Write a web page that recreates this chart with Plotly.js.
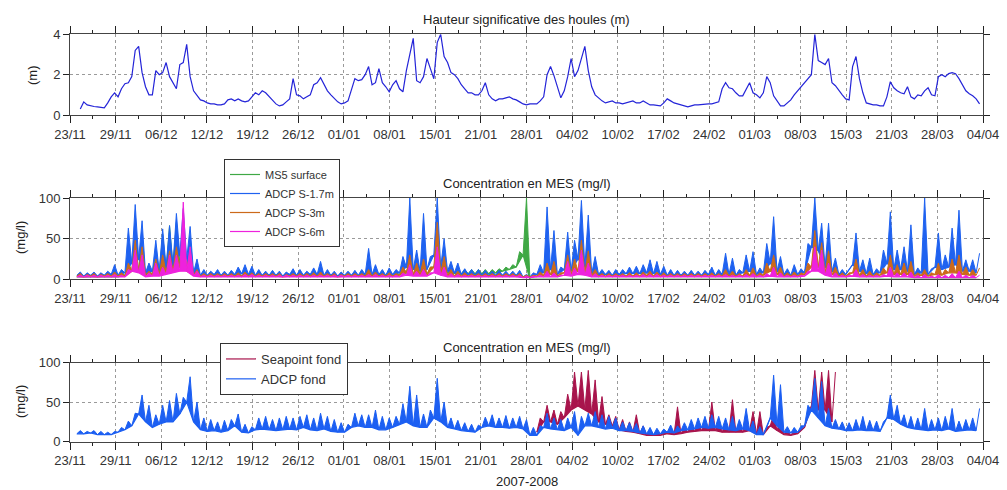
<!DOCTYPE html>
<html>
<head>
<meta charset="utf-8">
<script src="https://cdn.plot.ly/plotly-3.0.1.min.js"></script>
<style>html,body{margin:0;padding:0;background:#fff;}#chart{width:1007px;height:490px;}</style>
</head>
<body>
<div id="chart"></div>
<script>
// ---- Tick labels (dates, 2007-2008), equally spaced over 133 days starting 23/11 ----
const TICK_LABELS = ["23/11","29/11","06/12","12/12","19/12","26/12","01/01","08/01","15/01","21/01","28/01","04/02","10/02","17/02","24/02","01/03","08/03","15/03","21/03","28/03","04/04"];
const SPAN_DAYS = 133;

// ---- Significant wave height (m), half-day samples starting at day 1.5 ----
const WAVE_START = 1.5;
const WAVE_STEP = 0.5;
const waveHeight = [
 0.3,0.65,0.5,0.45,0.42,0.4,0.38,0.35,0.6,0.9,
 1.1,0.9,1.3,1.55,1.6,1.9,3.2,3.4,2.1,1.4,
 1.0,1.0,2.2,2.0,2.1,2.6,1.9,1.6,1.3,2.5,
 2.6,3.5,1.9,1.2,0.95,0.75,0.7,0.6,0.55,0.55,
 0.5,0.5,0.55,0.75,0.8,0.7,0.8,0.7,0.65,0.7,
 0.9,1.1,1.0,1.2,1.1,0.9,0.75,0.55,0.45,0.5,
 0.65,0.8,1.8,1.0,0.95,0.8,0.9,1.0,1.5,1.6,
 1.85,1.5,1.2,1.0,0.8,0.65,0.55,0.6,0.7,1.2,
 1.8,1.7,1.75,2.0,2.4,1.5,1.6,2.3,1.6,1.4,
 1.15,1.5,1.7,1.3,1.15,2.2,3.0,3.8,1.7,1.6,
 1.9,2.8,2.3,1.8,3.6,4.0,2.9,2.6,2.1,2.0,
 1.8,1.5,1.3,1.1,1.1,1.0,1.0,1.2,1.6,1.0,
 0.8,0.7,0.8,0.8,0.85,0.9,0.8,0.75,0.65,0.55,
 0.5,0.55,0.55,0.55,0.7,0.9,2.0,2.4,1.95,1.4,
 0.85,1.2,1.9,2.8,1.9,2.2,2.8,3.4,2.2,1.4,
 1.0,0.85,0.7,0.6,0.65,0.7,0.6,0.6,0.55,0.6,
 0.65,0.7,0.6,0.6,0.7,0.6,0.5,0.5,0.48,0.45,
 0.6,0.8,0.7,0.6,0.55,0.5,0.45,0.4,0.45,0.5,
 0.5,0.52,0.55,0.55,0.55,0.6,0.65,1.3,1.6,1.35,
 1.3,1.1,0.95,0.95,1.3,1.6,1.1,1.0,0.85,1.1,
 1.9,1.6,0.95,0.7,0.45,0.45,0.6,0.75,1.0,1.2,
 1.4,1.6,1.75,2.0,4.0,2.7,2.6,2.5,2.8,1.6,
 1.45,1.2,1.0,0.8,0.75,2.4,2.9,1.8,1.1,0.6,
 0.55,0.5,0.5,0.45,0.45,0.9,1.65,1.35,1.2,1.1,
 1.05,1.4,0.9,0.8,1.0,0.95,1.2,1.35,1.0,0.95,
 1.9,2.0,1.9,2.05,2.1,2.05,1.8,1.5,1.2,1.05,
 0.95,0.8,0.55
];

// ---- Surface SSC (mg/l): daily low / high readings, days 1..132 ----
const MES_START = 1;
const ms5Low = [
 3,3,3,3,3,3,3,5,10,10, 5,6,8,10,15,20,15,5,4,4, 4,4,4,4,4,4,4,4,4,4, 4,4,4,4,4,4,4,4,4,4,
 4,4,4,4,4,4,4,6,8,6, 6,6,15,8,8,7,7,7,7,7, 7,8,10,12,15,30,0,0,0,0, 0,0,0,0,0,0,0,0,0,0,
 0,0,0,0,0,0,0,0,0,0, 0,0,0,0,0,0,0,0,0,0, 0,0,0,0,0,0,0,0,0,0, 0,0,0,0,0,0,0,0,0,0,
 0,0,0,0,0,0,0,0,0,0, 0,0];
const ms5High = [
 7,7,7,7,7,7,7,20,50,45, 12,30,55,66,70,60,45,15,8,8, 8,8,8,8,8,8,8,8,8,8, 8,8,8,8,8,8,8,8,8,8,
 8,8,8,8,8,8,8,15,25,15, 20,15,40,20,14,12,12,12,12,12, 12,13,15,18,34,100,0,0,0,0, 0,0,0,0,0,0,0,0,0,0,
 0,0,0,0,0,0,0,0,0,0, 0,0,0,0,0,0,0,0,0,0, 0,0,0,0,0,0,0,0,0,0, 0,0,0,0,0,0,0,0,0,0,
 0,0,0,0,0,0,0,0,0,0, 0,0];
const s17Low = [
 5,4,5,4,5,6,5,8,20,25, 8,10,10,15,18,30,25,8,5,5, 6,5,5,6,7,6,5,5,5,5, 4,6,5,5,6,6,5,5,4,5,
 5,5,6,6,6,5,6,8,15,12, 10,12,30,15,10,8,6,6,5,5, 5,5,5,5,5,3,3,6,8,12, 6,12,10,25,15,7,6,6,5,6,
 7,7,7,8,7,6,5,5,5,5, 5,5,6,5,6,6,5,8,10,6, 8,20,10,6,5,6,8,40,35,15, 10,6,6,18,10,7,6,8,20,12,
 12,10,6,8,6,15,12,15,18,10, 10,8];
const s17High = [
 9,8,9,8,10,18,12,63,92,72, 20,48,62,66,81,87,65,25,12,10, 12,10,11,15,18,16,12,10,11,10, 9,13,12,10,14,22,12,10,9,10,
 11,12,38,18,12,14,12,28,100,36, 81,28,100,50,22,20,13,12,12,11, 10,11,10,10,11,6,8,18,89,60, 15,58,48,97,79,28,12,11,12,12,
 15,16,18,24,22,16,12,11,10,11, 10,11,15,12,32,26,12,30,34,14, 44,77,28,13,18,13,44,100,69,69, 26,12,12,57,24,26,13,36,83,36,
 40,67,14,100,13,57,30,63,85,24, 24,32];
const s3Low = [
 4,3,4,3,4,4,4,4,10,10, 5,6,6,8,10,15,10,5,4,4, 4,4,4,4,4,4,4,4,4,4, 3,4,4,4,4,4,4,4,3,4,
 4,4,4,4,4,4,4,5,8,6, 6,6,15,8,5,4,4,4,4,4, 4,4,4,4,4,3,3,4,5,6, 4,8,6,10,8,5,4,4,4,4,
 4,4,4,5,4,4,4,4,4,4, 4,4,4,4,4,4,4,4,5,4, 5,10,6,4,4,4,6,15,15,8, 6,4,4,8,5,4,4,5,8,6,
 6,6,4,5,4,6,5,8,8,6, 5,5];
const s3High = [
 7,6,7,6,7,9,8,20,48,40, 10,25,30,35,40,60,35,12,7,7, 7,7,7,8,9,8,7,7,7,7, 6,7,7,7,8,9,7,7,6,7,
 7,7,12,9,7,8,7,15,30,20, 25,15,70,28,12,10,8,7,7,7, 7,7,7,7,7,5,5,9,20,22, 8,30,25,48,35,12,7,7,7,7,
 8,8,9,10,9,8,7,7,7,7, 7,7,8,7,12,10,7,12,14,8, 20,30,15,8,9,8,20,60,45,35, 15,8,8,25,12,10,8,14,30,18,
 20,22,8,12,8,20,12,25,30,15, 12,14];
const s6Low = [
 3,3,3,3,3,3,3,3,10,8, 3,4,4,6,8,10,10,4,3,3, 3,3,3,3,3,3,3,3,3,3, 3,3,3,3,3,3,3,3,3,3,
 3,3,3,3,3,3,3,3,5,4, 4,4,8,5,3,3,3,3,3,3, 3,3,3,3,3,2,2,3,3,3, 3,5,4,6,5,3,3,3,3,3,
 3,3,3,3,3,3,3,3,3,3, 3,3,3,3,3,3,3,3,3,3, 3,4,3,3,3,3,4,10,10,5, 3,3,3,4,3,3,3,3,4,3,
 3,3,2,2,2,2,2,2,2,2, 2,2];
const s6High = [
 5,5,5,5,5,6,5,12,36,30, 8,20,15,30,30,95,40,10,5,5, 5,5,5,5,6,6,5,5,5,5, 5,5,5,5,5,5,5,5,5,5,
 5,5,6,6,5,5,5,8,18,10, 12,8,40,15,7,6,5,5,5,5, 5,5,5,5,5,4,4,5,10,8, 5,22,14,36,20,7,5,5,5,5,
 5,5,6,6,6,5,5,5,5,5, 5,5,5,5,6,5,5,6,7,5, 7,15,8,5,5,5,10,40,36,20, 8,5,5,12,6,5,5,6,15,8,
 8,9,5,6,4,6,5,7,10,5, 5,5];

// ---- Bottom SSC (mg/l): daily low / high readings ----
const fondLow = [
 10,10,11,9,9,9,12,15,20,35, 25,18,22,25,25,35,50,25,15,13, 14,12,14,20,12,11,15,16,15,14, 15,16,15,18,15,14,16,13,12,12,
 18,20,18,18,15,15,18,22,25,20, 18,18,30,25,18,16,14,13,12,18, 20,18,18,17,18,16,8,8,18,16, 15,14,18,8,20,20,18,16,17,14,
 14,13,11,10,9,10,12,11,14,15, 16,18,17,18,16,15,14,16,14,9, 9,30,20,12,11,12,20,40,30,20, 17,16,14,14,15,14,14,13,30,28,
 22,18,16,15,14,15,14,16,13,14, 15,14];
const fondHigh = [
 14,13,14,13,12,13,18,26,36,59, 46,34,46,52,61,56,82,50,30,28, 25,27,28,35,22,19,30,32,28,30, 32,30,32,34,30,36,32,28,24,22,
 36,34,34,40,32,30,32,48,70,59, 35,40,80,50,30,27,24,22,21,31, 34,30,33,30,32,28,18,20,36,30, 28,30,38,32,36,38,34,32,30,25,
 24,23,20,18,17,16,21,20,24,28, 30,32,34,32,30,32,28,42,26,19, 18,84,72,19,18,20,46,80,76,42, 28,25,24,28,32,27,26,25,59,46,
 34,32,30,42,28,30,32,42,26,28, 30,42];
const SEAPOINT_START = 68;
const seapointLow = [
 12,25,25,22,30,40,45,40,35,25, 22,20,15,13,12,10,8,8,8,10, 9,10,12,13,14,14,14,12,12,12,
 12,14,10,9,20,14,9,8,10,18, 45,40,40,25];
const seapointHigh = [
 30,46,40,38,60,88,88,90,78,57, 34,32,28,25,34,20,15,14,15,17, 44,18,22,24,25,50,26,24,53,24,
 25,38,38,18,34,30,15,14,16,34, 90,88,90,88];

// ---- helpers ----
const FONT = 'Liberation Sans, Arial, sans-serif';
const tickVals = TICK_LABELS.map((_, k) => k * SPAN_DAYS / (TICK_LABELS.length - 1));
const waveX = waveHeight.map((_, i) => WAVE_START + i * WAVE_STEP);

// a noisy series: each day goes from its low reading up to its high reading and back,
// the spikes being filled down to the line of daily lows
function noisy(start, lo, hi, color, xa, ya) {
  const xl = [], yl = [], xz = [], yz = [];
  for (let i = 0; i < lo.length; i++) {
    xl.push(start + i); yl.push(lo[i]);
    xz.push(start + i); yz.push(lo[i]);
    xz.push(start + i + 0.5); yz.push(hi[i]);
  }
  return [
    {x: xl, y: yl, xaxis: xa, yaxis: ya, type: 'scatter', mode: 'lines',
     line: {color: color, width: 1.2}, showlegend: false, hoverinfo: 'skip'},
    {x: xz, y: yz, xaxis: xa, yaxis: ya, type: 'scatter', mode: 'lines', fill: 'tonexty',
     fillcolor: color, line: {color: color, width: 1}, showlegend: false, hoverinfo: 'skip'}
  ];
}
function legendEntry(name, color, legend, xa, ya) {
  return {x: [null], y: [null], xaxis: xa, yaxis: ya, type: 'scatter', mode: 'lines',
          line: {color: color, width: 1.2}, name: name, legend: legend, showlegend: true};
}

function xAxis(anchor) {
  return {
    anchor: anchor, range: [0, SPAN_DAYS], tickmode: 'array', tickvals: tickVals, ticktext: TICK_LABELS,
    ticks: 'outside', ticklen: 7, tickwidth: 1, tickcolor: '#222',
    showline: true, linecolor: '#444', linewidth: 1, mirror: 'ticks',
    showgrid: true, gridcolor: '#9a9a9a', griddash: 'dot', gridwidth: 1, zeroline: false,
    minor: {tick0: 0, dtick: SPAN_DAYS / 40, ticks: 'outside', ticklen: 3, tickcolor: '#222', showgrid: false},
    tickfont: {family: FONT, size: 13, color: '#333'}, layer: 'above traces'
  };
}
function yAxis(anchor, domain, range, vals) {
  return {
    anchor: anchor, domain: domain, range: range, tickmode: 'array', tickvals: vals,
    ticks: 'outside', ticklen: 6, tickwidth: 1, tickcolor: '#222',
    showline: true, linecolor: '#444', linewidth: 1, mirror: 'ticks',
    showgrid: true, gridcolor: '#9a9a9a', griddash: 'dot', gridwidth: 1, zeroline: false,
    tickfont: {family: FONT, size: 13, color: '#333'}, layer: 'above traces'
  };
}

const C_MS5 = '#3fa845', C_S17 = '#1f62f0', C_S3 = '#cc6a1a', C_S6 = '#ee22dd';
const C_SEA = '#a8144c', C_FOND = '#1c5ff2';

const traces = [
  {x: waveX, y: waveHeight, xaxis: 'x', yaxis: 'y', type: 'scatter', mode: 'lines',
   line: {color: '#2424d8', width: 1.2}, showlegend: false, name: 'Hs'},
  ...noisy(MES_START, ms5Low, ms5High, C_MS5, 'x2', 'y2'),
  ...noisy(MES_START, s17Low, s17High, C_S17, 'x2', 'y2'),
  ...noisy(MES_START, s3Low, s3High, C_S3, 'x2', 'y2'),
  ...noisy(MES_START, s6Low, s6High, C_S6, 'x2', 'y2'),
  ...noisy(SEAPOINT_START, seapointLow, seapointHigh, C_SEA, 'x3', 'y3'),
  ...noisy(MES_START, fondLow, fondHigh, C_FOND, 'x3', 'y3'),
  legendEntry('MS5 surface', C_MS5, 'legend', 'x2', 'y2'),
  legendEntry('ADCP S-1.7m', C_S17, 'legend', 'x2', 'y2'),
  legendEntry('ADCP S-3m', C_S3, 'legend', 'x2', 'y2'),
  legendEntry('ADCP S-6m', C_S6, 'legend', 'x2', 'y2'),
  legendEntry('Seapoint fond', C_SEA, 'legend2', 'x3', 'y3'),
  legendEntry('ADCP fond', C_FOND, 'legend2', 'x3', 'y3')
];

const H = 490;
const py = p => 1 - p / H;
const ann = (text, px, pyy, extra) => Object.assign({text: text, xref: 'paper', yref: 'paper',
  x: (px - 70) / 913, y: py(pyy), xanchor: 'center', yanchor: 'middle', showarrow: false,
  font: {family: FONT, size: 13, color: '#222'}}, extra || {});

const layout = {
  width: 1007, height: 490,
  margin: {l: 70, r: 24, t: 0, b: 0},
  paper_bgcolor: '#fff', plot_bgcolor: '#fff',
  font: {family: FONT, size: 13, color: '#333'},
  xaxis: xAxis('y'), xaxis2: xAxis('y2'), xaxis3: xAxis('y3'),
  yaxis: yAxis('x', [py(115), py(34.3)], [0, 4], [0, 2, 4]),
  yaxis2: yAxis('x2', [py(279.3), py(198)], [0, 100], [0, 50, 100]),
  yaxis3: yAxis('x3', [py(441.7), py(362.5)], [0, 100], [0, 50, 100]),
  legend: {x: (224 - 70) / 913, y: py(159), xanchor: 'left', yanchor: 'top', traceorder: 'normal',
           bgcolor: '#fff', bordercolor: '#333', borderwidth: 1,
           font: {family: FONT, size: 11, color: '#333'}, tracegroupgap: 0},
  legend2: {x: (220 - 70) / 913, y: py(343), xanchor: 'left', yanchor: 'top', traceorder: 'normal',
           bgcolor: '#fff', bordercolor: '#333', borderwidth: 1,
           font: {family: FONT, size: 13, color: '#333'}, tracegroupgap: 0},
  annotations: [
    ann('Hauteur significative des houles (m)', 526.5, 19),
    ann('Concentration en MES (mg/l)', 526.5, 183),
    ann('Concentration en MES (mg/l)', 526.5, 347),
    ann('2007-2008', 526.5, 481),
    ann('(m)', 32, 75, {textangle: -90}),
    ann('(mg/l)', 20, 238, {textangle: -90}),
    ann('(mg/l)', 20, 402, {textangle: -90})
  ]
};

Plotly.newPlot('chart', traces, layout, {staticPlot: true, displayModeBar: false});
</script>
</body>
</html>
